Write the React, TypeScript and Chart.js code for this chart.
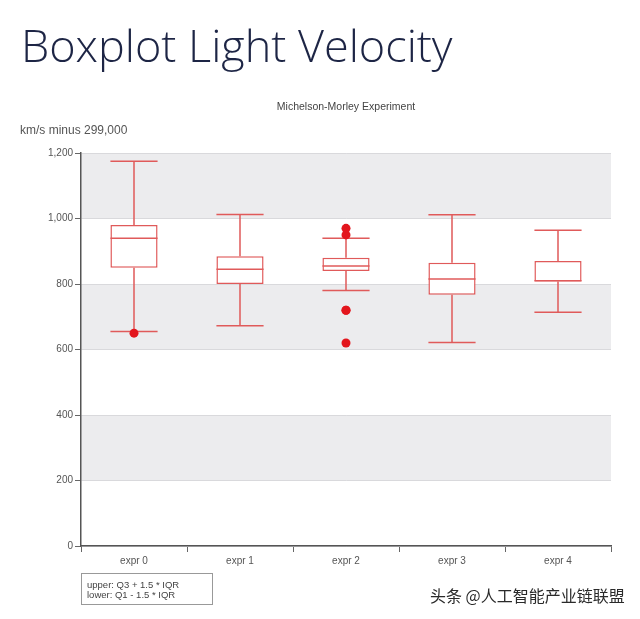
import React, { useEffect, useRef } from "react";
import { Chart, registerables } from "chart.js";

Chart.register(...registerables);

const categories = ["expr 0", "expr 1", "expr 2", "expr 3", "expr 4"];
const whiskerLow = [655, 672.5, 780, 621.25, 713.75];
const q1 = [850, 800, 840, 767.5, 807.5];
const median = [940, 845, 855, 815, 810];
const q3 = [980, 885, 880, 865, 870];
const whiskerHigh = [1175, 1012.5, 940, 1011.25, 963.75];
const outlierCategory = ["expr 0", "expr 2", "expr 2", "expr 2", "expr 2", "expr 2"];
const outlierValue = [650, 620, 720, 720, 950, 970];
const yTicks = [0, 200, 400, 600, 800, 1000, 1200];

const RED = "#e05a5a";
const DOT = "#e3161d";
const BAND = "#ececee";

const boxPlugin = {
  id: "boxParts",
  beforeDraw(chart: any) {
    const { ctx, chartArea, scales } = chart;
    const y = scales.y;
    ctx.save();
    ctx.fillStyle = BAND;
    for (let i = 0; i < yTicks.length - 1; i++) {
      if (i % 2 === 1) {
        const top = y.getPixelForValue(yTicks[i + 1]);
        const bot = y.getPixelForValue(yTicks[i]);
        ctx.fillRect(chartArea.left, top, chartArea.right - chartArea.left, bot - top);
      }
    }
    ctx.restore();
  },
  beforeDatasetsDraw(chart: any) {
    const { ctx, scales } = chart;
    const meta = chart.getDatasetMeta(1);
    ctx.save();
    ctx.strokeStyle = RED;
    ctx.lineWidth = 1.5;
    meta.data.forEach((bar: any, i: number) => {
      const cx = scales.x.getPixelForValue(i);
      const half = bar.width / 2;
      const yl = scales.y.getPixelForValue(whiskerLow[i]);
      const yh = scales.y.getPixelForValue(whiskerHigh[i]);
      const yq1 = scales.y.getPixelForValue(q1[i]);
      const yq3 = scales.y.getPixelForValue(q3[i]);
      ctx.beginPath();
      ctx.moveTo(cx, yl);
      ctx.lineTo(cx, yq1);
      ctx.moveTo(cx, yq3);
      ctx.lineTo(cx, yh);
      ctx.moveTo(cx - half, yl);
      ctx.lineTo(cx + half, yl);
      ctx.moveTo(cx - half, yh);
      ctx.lineTo(cx + half, yh);
      ctx.stroke();
    });
    ctx.restore();
  },
  afterDatasetDraw(chart: any, args: any) {
    if (args.index !== 1) return;
    const { ctx, scales } = chart;
    const meta = chart.getDatasetMeta(1);
    ctx.save();
    ctx.strokeStyle = RED;
    ctx.lineWidth = 1.5;
    meta.data.forEach((bar: any, i: number) => {
      const cx = scales.x.getPixelForValue(i);
      const half = bar.width / 2;
      const ym = scales.y.getPixelForValue(median[i]);
      ctx.beginPath();
      ctx.moveTo(cx - half, ym);
      ctx.lineTo(cx + half, ym);
      ctx.stroke();
    });
    ctx.restore();
  },
};

export default function App() {
  const ref = useRef<HTMLCanvasElement>(null);
  useEffect(() => {
    document.body.style.margin = "0";
    const chart = new Chart(ref.current!, {
      type: "bar",
      data: {
        labels: categories,
        datasets: [
          {
            type: "scatter",
            order: 0,
            data: outlierCategory.map((c, i) => ({ x: c, y: outlierValue[i] })) as any,
            backgroundColor: DOT,
            borderColor: DOT,
            pointRadius: 4.5,
            pointBorderWidth: 0,
          } as any,
          {
            type: "bar",
            order: 1,
            data: categories.map((_, i) => [q1[i], q3[i]]) as any,
            backgroundColor: "#ffffff",
            borderColor: RED,
            borderWidth: 1.5,
            borderSkipped: false,
            categoryPercentage: 1,
            barPercentage: 0.445,
          } as any,
        ],
      },
      options: {
        animation: false,
        responsive: false,
        maintainAspectRatio: false,
        layout: { padding: { left: 21, right: 29, top: 153, bottom: 43 } },
        plugins: { legend: { display: false }, tooltip: { enabled: false }, title: { display: false } },
        scales: {
          x: {
            type: "category",
            offset: true,
            afterFit: (s: any) => { s.height = 30; },
            grid: { offset: true, drawOnChartArea: false, drawTicks: true, tickLength: 6, tickColor: "#666" },
            border: { color: "#555", width: 1.5 },
            ticks: { color: "#555", padding: 3, font: { family: "Liberation Sans", size: 10 } },
          },
          y: {
            min: 0,
            max: 1200,
            afterFit: (s: any) => { s.width = 60; },
            grid: { color: "#d9d9dc", tickLength: 6, tickColor: "#666" },
            border: { color: "#555", width: 1.5 },
            ticks: { stepSize: 200, color: "#555", padding: 2, font: { family: "Liberation Sans", size: 10 } },
          },
        },
      },
      plugins: [boxPlugin],
    });
    return () => chart.destroy();
  }, []);

  return (
    <div style={{ position: "fixed", left: 0, top: 0, width: 640, height: 619, background: "#ffffff", overflow: "hidden" }}>
      <canvas ref={ref} width={640} height={619} style={{ position: "absolute", left: 0, top: 0, width: 640, height: 619 }} />
      <div style={{ position: "absolute", left: 21, top: 22, fontFamily: "'Open Sans', sans-serif", fontWeight: 300, fontSize: 45, lineHeight: 1, color: "#1d2545", whiteSpace: "nowrap" }}>
        Boxplot Light Velocity
      </div>
      <div style={{ position: "absolute", left: 81, width: 530, top: 100, textAlign: "center", fontFamily: "'Liberation Sans', sans-serif", fontSize: 10.5, color: "#444" }}>
        Michelson-Morley Experiment
      </div>
      <div style={{ position: "absolute", left: 20, top: 123, fontFamily: "'Liberation Sans', sans-serif", fontSize: 12, color: "#555", whiteSpace: "nowrap" }}>
        km/s minus 299,000
      </div>
      <div style={{ position: "absolute", left: 81, top: 573, width: 132, height: 32, border: "1px solid #999", fontFamily: "'Liberation Sans', sans-serif", fontSize: 9.5, lineHeight: "10px", color: "#444", padding: "6px 0 0 5px", boxSizing: "border-box" }}>
        <div>upper: Q3 + 1.5 * IQR</div>
        <div>lower: Q1 - 1.5 * IQR</div>
      </div>
      <div style={{ position: "absolute", left: 430, top: 585, fontFamily: "'Noto Sans CJK SC', sans-serif", fontSize: 16, lineHeight: "20px", color: "#2a2a2a", textShadow: "0 0 2px #fff", whiteSpace: "nowrap" }}>
        头条 @人工智能产业链联盟
      </div>
    </div>
  );
}
